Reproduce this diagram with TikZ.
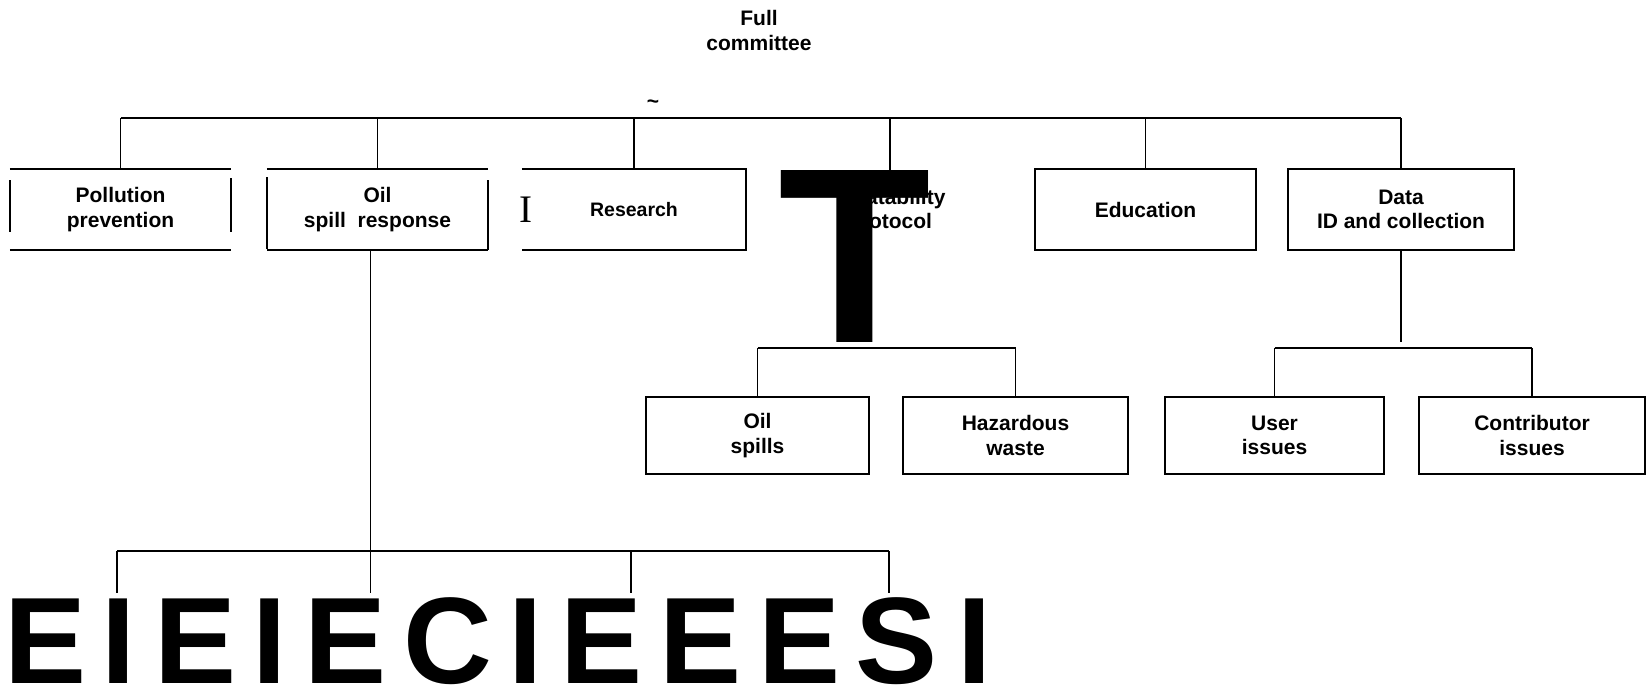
\documentclass[tikz,border=0pt]{standalone}
\usepackage{fontspec}
\setmainfont{Liberation Sans}
\newfontfamily\romanI{Liberation Serif}
\usetikzlibrary{calc}
\newcommand{\labfont}{\fontsize{21}{24.5}\selectfont\bfseries}

\begin{document}
\begin{tikzpicture}[x=1pt, y=-1pt,
    BOX/.style={rectangle, draw=black, line width=2pt, inner sep=0pt, align=center, font=\labfont, minimum height=81pt},
    OPEN/.style={rectangle, inner sep=0pt, align=center, font=\labfont, minimum height=81pt},
    LOW/.style={BOX, minimum height=77pt},
    frame/.style={line width=1.8pt},
    bar/.style={line width=2.5pt},
    drop/.style={line width=1.6pt},
    bigletter/.style={anchor=base, inner sep=0pt, font=\fontsize{123}{123}\selectfont\bfseries}
    ]
    \useasboundingbox (0,0) rectangle (1647,688);
    \coordinate (lvl1) at (0,118);
    \coordinate (lvl2top) at (0,342);
    \coordinate (lvl2) at (0,348);
    \coordinate (lvl3) at (0,551);
    \coordinate (ltop) at (0,593);

    \node[align=center, inner sep=0pt, font=\labfont] (full) at (759,30.6) {Full\\committee};
    \node[inner sep=0pt, font=\labfont] (tilde) at (653,104) {\textasciitilde};

    % first level
    \node[OPEN, minimum width=221pt] (pp) at (120.5,209.5) {Pollution\\prevention};
    \draw[frame] (pp.north west) -- (pp.north east) (pp.south west) -- (pp.south east)
        ($(pp.west)+(0,-29.5)$) -- ($(pp.west)+(0,22.5)$)
        ($(pp.east)+(0,-31.5)$) -- ($(pp.east)+(0,22.5)$);
    \node[OPEN, minimum width=221pt] (osr) at (377.5,209.5) {Oil\\spill\ \ response};
    \draw[frame] (osr.north west) -- (osr.north east) (osr.south west) -- (osr.south east)
        ($(osr.west)+(0,-32.5)$) -- ($(osr.west)+(0,39.5)$)
        ($(osr.east)+(0,-29.5)$) -- ($(osr.east)+(0,40.5)$);
    \node[OPEN, minimum width=224pt, font=\fontsize{19.5}{24.5}\selectfont\bfseries] (res) at (634,209.5) {Research};
    \draw[frame] (res.north west) -- (res.north east) -- (res.south east) -- (res.south west);
    \node[inner sep=0pt, font=\romanI\fontsize{39}{39}\selectfont] (resI) at (525.7,210) {I};
    \node[align=center, inner sep=0pt, font=\labfont] (tp) at (890,211) {Treatability\\protocol};
    \node[BOX, minimum width=221pt] (edu) at (1145.5,209.5) {Education};
    \node[BOX, minimum width=226pt] (data) at (1401,209.5) {Data\\ID and collection};

    \node[anchor=base, inner sep=0pt, font=\fontsize{250}{250}\selectfont\bfseries] (bigT) at (854.5,342) {T};

    \draw[bar] (pp.north |- lvl1) -- (data.north |- lvl1);
    \foreach \n in {pp,osr,res,edu,data}
        \draw[drop] (\n.north |- lvl1) -- (\n.north);
    \draw[drop] (tp |- lvl1) -- (tp |- bigT.north);

    % second level
    \node[LOW, minimum width=223pt] (oil) at (757.5,435.5) {Oil\\spills};
    \node[LOW, minimum width=225pt] (haz) at (1015.5,435.5) {Hazardous\\waste};
    \node[LOW, minimum width=219pt] (user) at (1274.5,435.5) {User\\issues};
    \node[LOW, minimum width=226pt] (contrib) at (1532,435.5) {Contributor\\issues};

    \draw[bar] (oil.north |- lvl2) -- (haz.north |- lvl2);
    \draw[drop] (data.south) -- (data.south |- lvl2top);
    \draw[bar] (user.north |- lvl2) -- (contrib.north |- lvl2);
    \foreach \n in {oil,haz,user,contrib}
        \draw[drop] (\n.north |- lvl2) -- (\n.north);

    % bottom row
    \foreach \ch/\cx [count=\i] in {E/45.4, I/118.9, E/195.6, I/269.5, E/346, C/447.8, I/525.6, E/601.8, E/700.7, E/800, S/897, I/974.4}
        \node[bigletter] (L\i) at (\cx,683) {\ch};

    \coordinate (osrfoot) at ([xshift=-7pt]osr.south);
    \coordinate (d1) at (117,593);
    \coordinate (d2) at (631,593);
    \coordinate (d3) at (889,593);
    \draw[drop] (osrfoot) -- (osrfoot |- ltop);
    \draw[bar] (d1 |- lvl3) -- (d3 |- lvl3);
    \foreach \d in {d1,d2,d3}
        \draw[drop] (\d |- lvl3) -- (\d);
\end{tikzpicture}
\end{document}
